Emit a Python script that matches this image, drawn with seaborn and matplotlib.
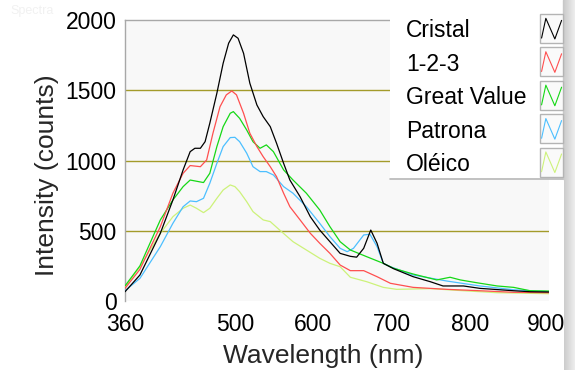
import numpy as np
import pandas as pd
import matplotlib
matplotlib.use("Agg")
import matplotlib.pyplot as plt
import matplotlib.transforms as mtransforms
import seaborn as sns
from matplotlib.lines import Line2D
from matplotlib.patches import Rectangle

# ---------------- data ----------------
series_names = ["Cristal", "1-2-3", "Great Value", "Patrona", "Oléico"]
series_colors = ["#000000", "#ff4f4f", "#16d816", "#4cbfff", "#cdf27a"]

cristal_wl = [360, 379, 405, 421, 434, 443, 449, 456, 462, 468, 477, 485, 492, 498, 504, 511, 519,
              528, 536, 545, 553, 562, 570, 583, 596, 608, 621, 634, 647, 655, 664, 673, 681, 689,
              702, 727, 749, 765, 791, 812, 855, 876, 900]
cristal = [66, 185, 482, 719, 933, 1063, 1087, 1087, 1134, 1265, 1479, 1692, 1835, 1894, 1870, 1763,
           1550, 1395, 1312, 1241, 1123, 980, 861, 742, 600, 505, 422, 339, 318, 312, 375, 505, 411,
           268, 230, 173, 137, 107, 107, 90, 73, 66, 64]

r123_wl = [360, 379, 405, 421, 434, 443, 456, 464, 472, 481, 489, 496, 502, 511, 519, 528, 536, 545,
           553, 562, 570, 583, 596, 608, 621, 634, 647, 664, 681, 698, 727, 770, 812, 855, 900]
r123 = [90, 225, 529, 767, 909, 964, 956, 1004, 1194, 1383, 1467, 1495, 1467, 1336, 1194, 1099, 1027,
        956, 885, 767, 671, 577, 482, 411, 339, 256, 216, 216, 173, 126, 97, 83, 73, 62, 59]

gv_wl = [360, 379, 405, 421, 434, 443, 460, 468, 477, 485, 494, 498, 506, 515, 523, 532, 540, 549,
         562, 574, 591, 608, 621, 634, 647, 668, 689, 702, 727, 757, 774, 787, 808, 834, 855, 876, 900]
gv = [107, 250, 577, 719, 814, 861, 843, 909, 1099, 1241, 1336, 1348, 1300, 1217, 1134, 1087, 1111,
      1063, 933, 861, 767, 648, 529, 422, 363, 315, 268, 233, 192, 150, 169, 150, 130, 107, 97, 73, 71]

pat_wl = [360, 379, 405, 421, 434, 443, 451, 460, 468, 477, 485, 494, 500, 506, 515, 523, 532, 540,
          549, 562, 574, 591, 608, 621, 634, 643, 651, 664, 672, 681, 689, 698, 727, 770, 812, 855, 900]
pat = [73, 161, 387, 553, 671, 712, 707, 731, 838, 980, 1099, 1163, 1165, 1134, 1052, 956, 921, 921,
       897, 814, 767, 671, 553, 458, 375, 351, 375, 470, 475, 387, 268, 244, 185, 142, 107, 80, 66]

ole_wl = [360, 379, 405, 421, 434, 443, 451, 460, 468, 477, 485, 494, 500, 506, 515, 523, 536, 545,
          557, 574, 591, 608, 621, 634, 647, 668, 689, 706, 749, 791, 834, 900]
ole = [100, 244, 482, 600, 660, 683, 660, 629, 660, 731, 790, 826, 814, 778, 707, 636, 577, 565, 505,
       422, 363, 304, 268, 244, 169, 137, 97, 83, 88, 73, 59, 52]

x_ticks = [360, 400, 500, 600, 700, 800, 900]
x_tick_labels = ["360", "", "500", "600", "700", "800", "900"]
y_ticks = [0, 500, 1000, 1500, 2000]
grid_values = [500, 1000, 1500]

# ---------------- style ----------------
sns.set_style("white")
plt.rcParams["font.family"] = ["Liberation Sans", "DejaVu Sans"]

W, H = 575, 370
fig = plt.figure(figsize=(W / 100, H / 100), dpi=100)
fig.patch.set_facecolor("white")

ax_l, ax_r, ax_t, ax_b = 125, 549, 20, 301
ax = fig.add_axes([ax_l / W, 1 - ax_b / H, (ax_r - ax_l) / W, (ax_b - ax_t) / H])
ax.set_facecolor("#f8f8f8")

frames = []
for name, wl, val in [("Cristal", cristal_wl, cristal), ("1-2-3", r123_wl, r123),
                      ("Great Value", gv_wl, gv), ("Patrona", pat_wl, pat), ("Oléico", ole_wl, ole)]:
    frames.append(pd.DataFrame({"Wavelength (nm)": wl, "Intensity (counts)": val, "Sample": name}))
df = pd.concat(frames, ignore_index=True)

palette = dict(zip(series_names, series_colors))
draw_order = ["Oléico", "Patrona", "Great Value", "1-2-3", "Cristal"]
sns.lineplot(data=df, x="Wavelength (nm)", y="Intensity (counts)", hue="Sample",
             hue_order=draw_order, palette=palette, estimator=None, sort=True,
             legend=False, lw=0.9, ax=ax, zorder=3)

for g in grid_values:
    ax.axhline(g, color="#a39b2a", lw=1.0, zorder=1)

ax.set_xlim(360, 900)
ax.set_ylim(0, 2000)
ax.set_xticks(x_ticks)
ax.set_xticklabels(x_tick_labels)
ax.set_yticks(y_ticks)
ax.set_yticklabels([str(v) for v in y_ticks])
ax.tick_params(axis="both", which="both", direction="out", length=4.5, width=1,
               color="#555555", labelsize=16.5, labelcolor="black")
ax.tick_params(axis="y", pad=1.5)
ax.tick_params(axis="x", pad=4)

# keep the last x tick label fully inside the window
last = ax.get_xticklabels()[-1]
last.set_transform(last.get_transform() + mtransforms.ScaledTranslation(-3 / 100, 0, fig.dpi_scale_trans))

for side in ["right", "bottom"]:
    ax.spines[side].set_visible(False)
for side in ["left", "top"]:
    ax.spines[side].set_color("#a8a8a8")
    ax.spines[side].set_linewidth(1.0)

ax.set_xlabel("Wavelength (nm)", fontsize=19, va="top")
ax.xaxis.set_label_coords((323 - ax_l) / (ax_r - ax_l), (ax_b - 344) / (ax_b - ax_t))
ax.set_ylabel("Intensity (counts)", fontsize=19)
ax.yaxis.set_label_coords((59 - ax_l) / (ax_r - ax_l), (ax_b - 175) / (ax_b - ax_t))

# ---------------- legend panel ----------------
def fx(px):
    return px / W


def fy(py):
    return 1 - py / H


fig.add_artist(Rectangle((fx(390), fy(178)), (563 - 390) / W, 178 / H, transform=fig.transFigure,
                         facecolor="white", edgecolor="none", zorder=3))
fig.add_artist(Line2D([fx(390), fx(563)], [fy(178.5), fy(178.5)], transform=fig.transFigure,
                      color="#b8b8b8", lw=1.2, zorder=4))
fig.add_artist(Line2D([fx(563), fx(563)], [fy(178.5), 1.0], transform=fig.transFigure,
                      color="#c8c8c8", lw=1.0, zorder=4))

row_h = 33.4
for i, (name, col) in enumerate(zip(series_names, series_colors)):
    fig.text(fx(406), fy(37.3 + row_h * i), name, fontsize=16.5, color="black",
             ha="left", va="baseline", zorder=5)
    bx0, bx1 = 540, 562.5
    by_top = 14 + row_h * i
    bh = 29
    fig.add_artist(Rectangle((fx(bx0), fy(by_top + bh)), (bx1 - bx0) / W, bh / H,
                             transform=fig.transFigure, facecolor="#fafafa",
                             edgecolor="#b4b4b4", lw=1, zorder=5))
    xs = [fx(bx0 + f * (bx1 - bx0)) for f in (0.07, 0.26, 0.66, 0.96)]
    ys = [fy(by_top + bh - f * bh) for f in (0.17, 0.85, 0.14, 0.78)]
    fig.add_artist(Line2D(xs, ys, transform=fig.transFigure, color=col, lw=0.8, zorder=6))

# right-hand grey strip
strip = fig.add_axes([564 / W, 0, (W - 564) / W, 1], zorder=-1)
grad = np.linspace(0.80, 0.93, 64).reshape(1, -1)
strip.imshow(grad, aspect="auto", cmap="gray", vmin=0, vmax=1, extent=(0, 1, 0, 1))
strip.set_axis_off()

# faint window title
fig.text(10 / W, 1 - 5 / H, "Spectra", fontsize=9, color="#f1f1f1", va="top", ha="left")

fig.savefig("out.png", dpi=100)
